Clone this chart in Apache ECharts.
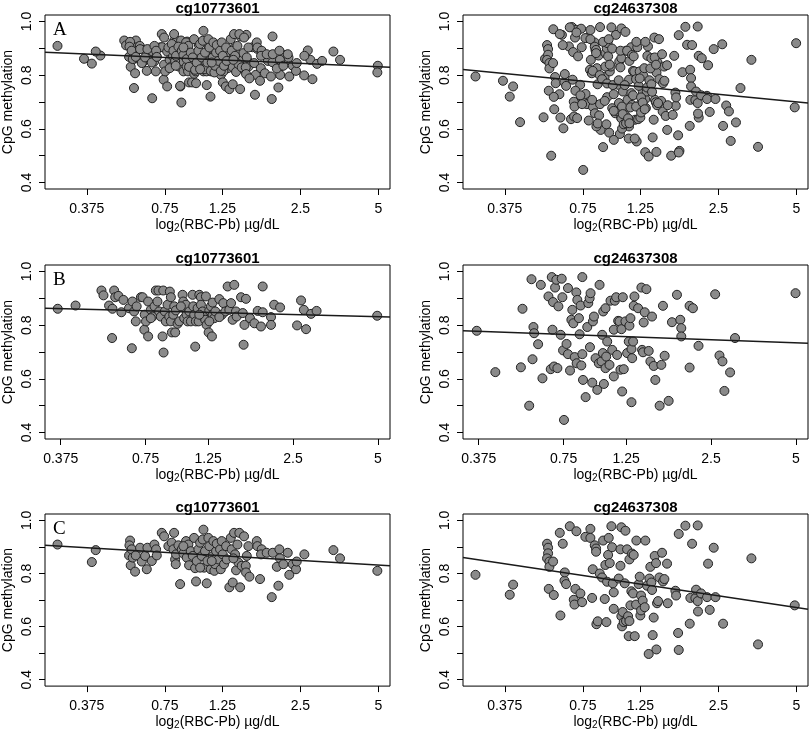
<!DOCTYPE html>
<html><head><meta charset="utf-8">
<script src="https://cdn.jsdelivr.net/npm/echarts@6/dist/echarts.min.js"></script>
<style>html,body{margin:0;padding:0;background:#fff}#c{width:810px;height:731px}</style>
</head><body><div id="c"></div>
<script>
// ---- tick labels / categories ----
const xTickValues = [0.375, 0.75, 1.25, 2.5, 5];
const xTickLabels = ['0.375', '0.75', '1.25', '2.5', '5'];
const yTickValues = [0.4, 0.5, 0.6, 0.7, 0.8, 0.9, 1.0];
const yLabelValues = [0.4, 0.6, 0.8, 1.0];
const probeNames = ['cg10773601', 'cg24637308'];
const panelLetters = ['A', 'B', 'C'];

// ---- data: [log2(RBC-Pb), CpG methylation] ----
const groupB_cg10773601 = [[-1.45,0.861],[-1.24,0.873],[-0.935,0.929],[-0.911,0.911],[-0.845,0.873],[-0.805,0.861],[-0.81,0.752],[-0.785,0.929],[-0.773,0.904],[-0.735,0.909],[-0.70,0.848],[-0.676,0.894],[-0.61,0.863],[-0.577,0.714],[-0.57,0.888],[-0.55,0.851],[-0.53,0.814],[-0.52,0.87],[-0.47,0.904],[-0.45,0.904],[-0.43,0.783],[-0.425,0.839],[-0.41,0.814],[-0.385,0.758],[-0.385,0.888],[-0.353,0.857],[-0.333,0.832],[-0.31,0.87],[-0.294,0.929],[-0.275,0.888],[-0.263,0.929],[-0.255,0.851],[-0.235,0.832],[-0.215,0.758],[-0.207,0.929],[-0.203,0.698],[-0.188,0.851],[-0.176,0.814],[-0.156,0.876],[-0.136,0.832],[-0.129,0.925],[-0.117,0.904],[-0.117,0.814],[-0.105,0.773],[-0.089,0.839],[-0.077,0.87],[-0.066,0.773],[-0.038,0.805],[-0.018,0.814],[0.021,0.913],[0.029,0.888],[0.04,0.863],[0.04,0.826],[0.06,0.876],[0.068,0.839],[0.08,0.814],[0.10,0.851],[0.119,0.814],[0.139,0.913],[0.147,0.87],[0.158,0.839],[0.17,0.72],[0.178,0.814],[0.198,0.863],[0.21,0.814],[0.218,0.913],[0.237,0.904],[0.237,0.876],[0.257,0.851],[0.265,0.832],[0.288,0.82],[0.296,0.907],[0.304,0.801],[0.328,0.773],[0.336,0.855],[0.355,0.87],[0.367,0.758],[0.375,0.884],[0.375,0.839],[0.395,0.826],[0.407,0.851],[0.454,0.897],[0.485,0.839],[0.501,0.882],[0.525,0.851],[0.552,0.944],[0.572,0.857],[0.592,0.882],[0.611,0.82],[0.63,0.95],[0.65,0.851],[0.658,0.832],[0.71,0.904],[0.73,0.845],[0.74,0.727],[0.75,0.801],[0.768,0.898],[0.815,0.826],[0.867,0.807],[0.906,0.853],[0.945,0.795],[0.965,0.944],[0.965,0.848],[1.063,0.83],[1.063,0.801],[1.10,0.876],[1.17,0.866],[1.37,0.799],[1.417,0.892],[1.45,0.857],[1.476,0.785],[1.535,0.842],[1.60,0.853],[2.314,0.835],[-0.353,0.826],[-0.058,0.855],[0.001,0.87],[0.218,0.839],[0.454,0.83],[0.336,0.814]];

const groupC_cg10773601 = [[-1.79,0.909],[-1.35,0.843],[-1.30,0.888],[-0.86,0.924],[-0.868,0.906],[-0.873,0.868],[-0.852,0.831],[-0.84,0.891],[-0.826,0.86],[-0.796,0.807],[-0.787,0.868],[-0.732,0.897],[-0.71,0.845],[-0.668,0.866],[-0.646,0.816],[-0.638,0.897],[-0.582,0.847],[-0.548,0.909],[-0.527,0.891],[-0.518,0.868],[-0.454,0.953],[-0.424,0.94],[-0.369,0.903],[-0.326,0.916],[-0.305,0.891],[-0.296,0.953],[-0.283,0.853],[-0.275,0.835],[-0.271,0.872],[-0.241,0.906],[-0.219,0.76],[-0.198,0.891],[-0.177,0.875],[-0.143,0.922],[-0.134,0.86],[-0.113,0.909],[-0.104,0.831],[-0.083,0.884],[-0.057,0.866],[-0.04,0.934],[-0.027,0.82],[-0.015,0.77],[-0.006,0.847],[0.015,0.891],[0.037,0.916],[0.058,0.866],[0.071,0.928],[0.08,0.965],[0.088,0.822],[0.10,0.884],[0.122,0.763],[0.13,0.847],[0.143,0.934],[0.156,0.903],[0.173,0.816],[0.199,0.866],[0.207,0.922],[0.22,0.81],[0.229,0.835],[0.242,0.884],[0.25,0.912],[0.272,0.853],[0.293,0.891],[0.302,0.816],[0.314,0.922],[0.327,0.872],[0.344,0.835],[0.37,0.903],[0.378,0.853],[0.412,0.748],[0.43,0.934],[0.442,0.891],[0.455,0.766],[0.472,0.953],[0.485,0.872],[0.498,0.812],[0.515,0.909],[0.528,0.841],[0.54,0.953],[0.55,0.748],[0.57,0.829],[0.60,0.94],[0.622,0.829],[0.626,0.804],[0.635,0.866],[0.656,0.903],[0.669,0.788],[0.763,0.922],[0.771,0.903],[0.805,0.779],[0.826,0.891],[0.818,0.872],[0.89,0.878],[0.955,0.711],[0.968,0.878],[1.02,0.825],[1.04,0.754],[1.053,0.891],[1.06,0.857],[1.104,0.835],[1.16,0.878],[1.18,0.795],[1.224,0.835],[1.266,0.816],[1.275,0.845],[1.373,0.872],[1.745,0.888],[1.83,0.857],[2.308,0.81],[-0.177,0.903],[0.186,0.847],[0.464,0.857],[0.037,0.822]];

const groupB_cg24637308 = [[-1.438,0.779],[-1.219,0.625],[-0.918,0.643],[-0.899,0.861],[-0.82,0.50],[-0.793,0.971],[-0.781,0.673],[-0.77,0.793],[-0.762,0.77],[-0.715,0.729],[-0.683,0.95],[-0.664,0.602],[-0.593,0.907],[-0.566,0.636],[-0.554,0.979],[-0.546,0.783],[-0.539,0.886],[-0.527,0.646],[-0.515,0.94],[-0.5,0.969],[-0.488,0.64],[-0.476,0.87],[-0.449,0.764],[-0.437,0.973],[-0.429,0.904],[-0.421,0.706],[-0.41,0.447],[-0.38,0.73],[-0.363,0.938],[-0.363,0.692],[-0.339,0.631],[-0.323,0.82],[-0.312,0.857],[-0.3,0.807],[-0.284,0.681],[-0.265,0.922],[-0.261,0.658],[-0.253,0.894],[-0.234,0.826],[-0.226,0.766],[-0.214,0.873],[-0.206,0.65],[-0.194,0.692],[-0.194,0.979],[-0.186,0.596],[-0.155,0.532],[-0.136,0.793],[-0.124,0.882],[-0.108,0.9],[-0.104,0.718],[-0.097,0.919],[-0.077,0.586],[-0.069,0.814],[-0.057,0.832],[-0.038,0.677],[-0.018,0.559],[0.001,0.658],[0.009,0.95],[0.032,0.665],[0.04,0.764],[0.048,0.696],[0.052,0.851],[0.06,0.581],[0.079,0.64],[0.079,0.863],[0.087,0.683],[0.099,0.739],[0.126,0.652],[0.138,0.891],[0.158,0.708],[0.177,0.609],[0.177,0.783],[0.189,0.891],[0.205,0.904],[0.216,0.689],[0.228,0.816],[0.244,0.814],[0.255,0.634],[0.267,0.785],[0.275,0.553],[0.283,0.904],[0.294,0.636],[0.314,0.814],[0.334,0.696],[0.353,0.739],[0.361,0.798],[0.373,0.826],[0.385,0.711],[0.385,0.513],[0.393,0.677],[0.404,0.739],[0.412,0.872],[0.42,0.907],[0.463,0.863],[0.502,0.94],[0.51,0.708],[0.521,0.699],[0.529,0.81],[0.541,0.848],[0.561,0.934],[0.588,0.704],[0.608,0.665],[0.627,0.832],[0.647,0.648],[0.666,0.596],[0.717,0.50],[0.737,0.652],[0.756,0.872],[0.776,0.686],[0.823,0.518],[0.862,0.811],[0.921,0.913],[0.96,0.82],[0.972,0.789],[0.972,0.758],[1.07,0.642],[1.07,0.872],[1.109,0.863],[1.175,0.723],[1.371,0.915],[1.422,0.687],[1.457,0.665],[1.48,0.555],[1.547,0.624],[1.605,0.752],[2.318,0.919]];

const groupC_cg24637308 = [[-1.79,0.795],[-1.351,0.72],[-1.308,0.758],[-0.873,0.912],[-0.86,0.897],[-0.86,0.876],[-0.873,0.857],[-0.843,0.845],[-0.843,0.825],[-0.851,0.742],[-0.796,0.845],[-0.787,0.719],[-0.71,0.953],[-0.702,0.642],[-0.672,0.912],[-0.65,0.773],[-0.646,0.804],[-0.629,0.76],[-0.582,0.978],[-0.531,0.701],[-0.522,0.683],[-0.51,0.742],[-0.497,0.959],[-0.446,0.725],[-0.424,0.692],[-0.382,0.938],[-0.318,0.968],[-0.318,0.934],[-0.296,0.708],[-0.288,0.816],[-0.262,0.906],[-0.245,0.894],[-0.245,0.882],[-0.241,0.609],[-0.224,0.62],[-0.198,0.8],[-0.168,0.785],[-0.155,0.924],[-0.134,0.704],[-0.126,0.832],[-0.113,0.617],[-0.104,0.769],[-0.091,0.87],[-0.083,0.934],[-0.07,0.839],[-0.049,0.978],[-0.04,0.899],[-0.031,0.763],[-0.019,0.667],[-0.019,0.729],[0.045,0.781],[0.067,0.829],[0.067,0.891],[0.079,0.974],[0.079,0.639],[0.088,0.601],[0.096,0.655],[0.109,0.617],[0.122,0.763],[0.131,0.961],[0.139,0.621],[0.152,0.891],[0.165,0.639],[0.173,0.564],[0.182,0.621],[0.182,0.853],[0.195,0.68],[0.207,0.733],[0.216,0.875],[0.229,0.725],[0.237,0.87],[0.25,0.564],[0.267,0.683],[0.271,0.924],[0.301,0.76],[0.314,0.788],[0.322,0.642],[0.331,0.717],[0.331,0.661],[0.352,0.698],[0.378,0.673],[0.386,0.924],[0.408,0.754],[0.429,0.497],[0.438,0.781],[0.45,0.825],[0.463,0.766],[0.472,0.738],[0.48,0.568],[0.493,0.634],[0.506,0.866],[0.523,0.839],[0.528,0.514],[0.536,0.688],[0.549,0.696],[0.566,0.785],[0.6,0.878],[0.613,0.77],[0.63,0.779],[0.664,0.837],[0.673,0.688],[0.771,0.735],[0.78,0.717],[0.806,0.576],[0.814,0.949],[0.814,0.512],[0.899,0.98],[0.955,0.611],[0.963,0.708],[0.985,0.912],[1.027,0.707],[1.036,0.739],[1.057,0.981],[1.057,0.696],[1.061,0.657],[1.1,0.725],[1.177,0.711],[1.19,0.837],[1.211,0.663],[1.262,0.897],[1.284,0.711],[1.382,0.611],[1.745,0.857],[1.83,0.533],[2.30,0.68]];

// fitted regression lines, end points [log2(RBC-Pb), CpG methylation]
const fitA_cg10773601 = [[-1.95, 0.885], [2.47, 0.829]];
const fitA_cg24637308 = [[-1.95, 0.821], [2.47, 0.696]];
const fitB_cg10773601 = [[-1.60, 0.863], [2.465, 0.830]];
const fitB_cg24637308 = [[-1.60, 0.779], [2.465, 0.733]];
const fitC_cg10773601 = [[-1.95, 0.906], [2.47, 0.829]];
const fitC_cg24637308 = [[-1.95, 0.860], [2.47, 0.665]];

// ---- panels (A = all subjects = B + C) ----
const panelPoints = [
  [groupB_cg10773601.concat(groupC_cg10773601), groupB_cg24637308.concat(groupC_cg24637308)],
  [groupB_cg10773601, groupB_cg24637308],
  [groupC_cg10773601, groupC_cg24637308]
];
const panelFits = [
  [fitA_cg10773601, fitA_cg24637308],
  [fitB_cg10773601, fitB_cg24637308],
  [fitC_cg10773601, fitC_cg24637308]
];

// ---- layout ----
const FONT = '"Liberation Sans", Arial, Helvetica, sans-serif';
const colLeft = [45, 463];
const gridW = 345;
const rowTop = [15, 265, 514];
const gridH = 174;
const rowXRange = [[-1.95, 2.47], [-1.60, 2.465], [-1.95, 2.47]];
const xTickPos = xTickValues.map(v => Math.log2(v));
function xLabel(v) {
  const i = xTickPos.findIndex(t => Math.abs(t - v) < 1e-6);
  return i >= 0 ? xTickLabels[i] : '';
}

const grids = [], xAxes = [], yAxes = [], series = [], graphics = [];
let idx = 0;
for (let r = 0; r < 3; r++) {
  for (let c = 0; c < 2; c++) {
    grids.push({ left: colLeft[c], top: rowTop[r], width: gridW, height: gridH, show: true,
      borderColor: '#000', borderWidth: 1, backgroundColor: 'transparent' });
    xAxes.push({
      gridIndex: idx, type: 'value', min: rowXRange[r][0], max: rowXRange[r][1], position: 'bottom',
      axisLine: { show: false, onZero: false }, splitLine: { show: false },
      axisTick: { show: true, customValues: xTickPos, length: 6, lineStyle: { color: '#000', width: 1 } },
      axisLabel: { customValues: xTickPos, formatter: xLabel, color: '#000', fontSize: 14, fontFamily: FONT, margin: 13 },
      name: '{a|log}{s|2}{a|(RBC-Pb) µg/dL}', nameLocation: 'middle', nameGap: 25,
      nameTextStyle: { rich: {
        a: { fontSize: 14, color: '#000', fontFamily: FONT, lineHeight: 16, verticalAlign: 'middle' },
        s: { fontSize: 10, color: '#000', fontFamily: FONT, lineHeight: 10, verticalAlign: 'bottom', padding: [6, 0, 0, 0] }
      } }
    });
    yAxes.push({
      gridIndex: idx, type: 'value', min: 0.376, max: 1.024, position: 'left',
      axisLine: { show: false, onZero: false }, splitLine: { show: false },
      axisTick: { show: true, customValues: yTickValues, length: 6, lineStyle: { color: '#000', width: 1 } },
      axisLabel: { customValues: yLabelValues, rotate: 90, formatter: v => v.toFixed(1), color: '#000', fontSize: 14, fontFamily: FONT, margin: 11 },
      name: 'CpG methylation', nameLocation: 'middle', nameGap: 30,
      nameTextStyle: { fontSize: 14, color: '#000', fontFamily: FONT }
    });
    series.push({
      type: 'scatter', xAxisIndex: idx, yAxisIndex: idx, data: panelPoints[r][c],
      symbol: 'circle', symbolSize: 9, silent: true, z: 2,
      itemStyle: { color: '#8a8a8a', borderColor: '#222', borderWidth: 1, opacity: 1 }
    });
    series.push({
      type: 'line', xAxisIndex: idx, yAxisIndex: idx, data: panelFits[r][c],
      symbol: 'none', silent: true, z: 3,
      lineStyle: { color: '#1a1a1a', width: 1.5 }
    });
    graphics.push({ type: 'text', x: colLeft[c] + gridW / 2, y: rowTop[r] - 6,
      style: { text: probeNames[c], align: 'center', verticalAlign: 'middle',
        fontSize: 15, fontWeight: 'bold', fontFamily: FONT, fill: '#000' } });
    idx++;
  }
  graphics.push({ type: 'text', x: 53, y: rowTop[r] + 15,
    style: { text: panelLetters[r], align: 'left', verticalAlign: 'middle',
      fontSize: 19, fontFamily: '"Liberation Serif", "Times New Roman", serif', fill: '#000' } });
}

const chart = echarts.init(document.getElementById('c'), null, { renderer: 'canvas' });
chart.setOption({
  animation: false,
  backgroundColor: '#fff',
  grid: grids, xAxis: xAxes, yAxis: yAxes, series: series,
  graphic: graphics
});
</script></body></html>
